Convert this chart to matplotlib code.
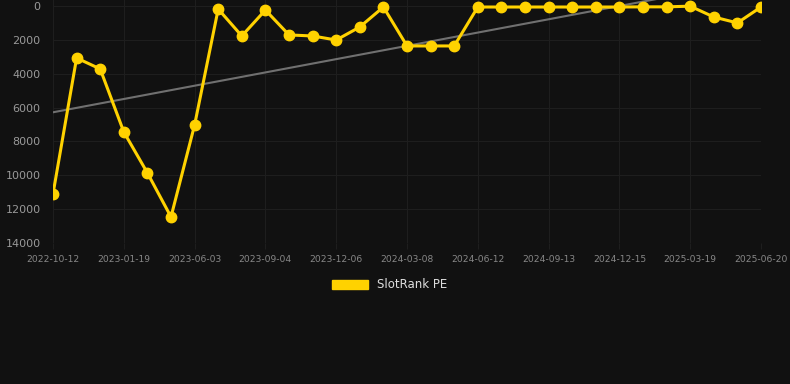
import numpy as np
import matplotlib
matplotlib.use('Agg')
import matplotlib.pyplot as plt
from matplotlib.patches import Patch

dates = ['2022-10-12', '2022-11-14', '2022-12-17', '2023-01-19', '2023-03-04', '2023-04-18',
         '2023-06-03', '2023-07-04', '2023-08-04', '2023-09-04', '2023-10-05', '2023-11-05',
         '2023-12-06', '2024-01-06', '2024-02-06', '2024-03-08', '2024-04-09', '2024-05-11',
         '2024-06-12', '2024-07-13', '2024-08-13', '2024-09-13', '2024-10-14', '2024-11-14',
         '2024-12-15', '2025-01-15', '2025-02-16', '2025-03-19', '2025-04-19', '2025-05-20',
         '2025-06-20']
ranks = [11100, 3070, 3720, 7440, 9860, 12460,
         7030, 180, 1770, 240, 1710, 1770,
         2010, 1240, 60, 2360, 2360, 2360,
         60, 60, 60, 60, 60, 60,
         60, 50, 50, 10, 650, 1000,
         60]

bg = '#111111'
gold = '#ffd200'

fig = plt.figure(figsize=(7.9, 3.84), dpi=100, facecolor=bg)
ax = fig.add_axes([53 / 790, 1 - 243 / 384, (761 - 53) / 790, 243 / 384])
ax.set_facecolor(bg)

x = np.arange(len(dates))
# linear trend
coef = np.polyfit(x, ranks, 1)
ax.plot(x, np.polyval(coef, x), color='#707070', lw=1.5, zorder=2)
ax.plot(x, ranks, color=gold, lw=2.2, marker='o', markersize=7.5, zorder=3)

ax.set_xlim(0, len(dates) - 1)
ax.set_ylim(14000, -6 * 14000 / 237)
ax.set_yticks(np.arange(0, 14001, 2000))
ax.set_xticks(x[::3])
ax.set_xticklabels(dates[::3])

for s in ax.spines.values():
    s.set_visible(False)
ax.grid(True, color='#1e1e1e', lw=0.8)
ax.tick_params(axis='y', colors='#999999', labelsize=8, length=0, pad=9)
ax.tick_params(axis='x', colors='#888888', labelsize=6.6, length=4, pad=5, color='#1e1e1e')

fig.legend(handles=[Patch(color=gold)], labels=['SlotRank PE'], loc='center',
           bbox_to_anchor=(390 / 790, 1 - 285 / 384), frameon=False,
           handlelength=3.0, handleheight=0.9, fontsize=8.5, labelcolor='#dddddd')

fig.savefig('out.png', dpi=100, facecolor=bg)
